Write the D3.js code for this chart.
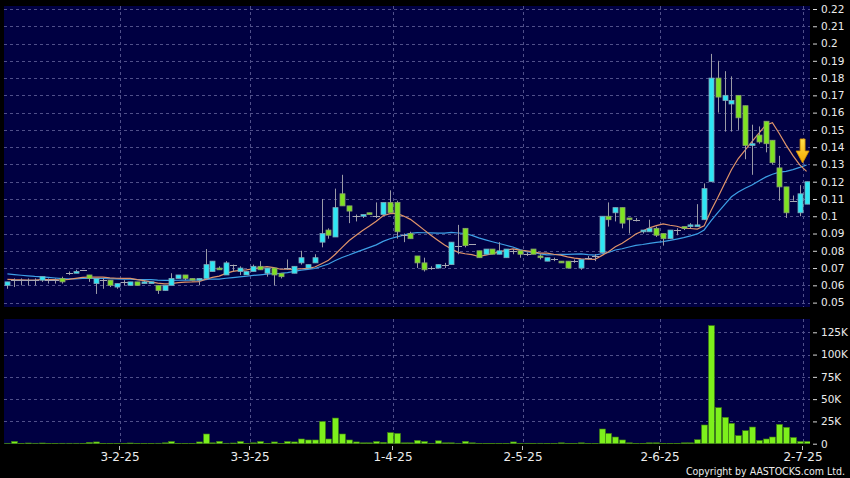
<!DOCTYPE html>
<html><head><meta charset="utf-8">
<script src="https://cdn.jsdelivr.net/npm/d3@7"></script>
<style>html,body{margin:0;padding:0;background:#000;}svg{display:block;}</style>
</head><body><svg id="c" width="850" height="478"></svg>
<script>
// ---- data ----
const opens  = [0.060,0.063,0.063,0.063,0.063,0.063,0.063,0.063,0.064,0.067,0.067,0.069,0.066,0.061,0.063,0.063,0.059,0.062,0.060,0.062,
0.061,0.061,0.060,0.057,0.060,0.064,0.066,0.064,0.063,0.064,0.068,0.070,0.066,0.072,0.068,0.066,0.068,0.071,0.067,0.070,
0.067,0.070,0.067,0.073,0.070,0.073,0.085,0.092,0.088,0.113,0.106,0.100,0.100,0.102,0.100,0.101,0.108,0.108,0.089,0.090,
0.077,0.073,0.070,0.070,0.072,0.072,0.083,0.093,0.084,0.080,0.078,0.081,0.078,0.076,0.080,0.080,0.078,0.081,0.077,0.074,
0.075,0.074,0.074,0.074,0.070,0.076,0.077,0.079,0.100,0.102,0.105,0.099,0.098,0.091,0.091,0.093,0.090,0.087,0.092,0.094,
0.094,0.094,0.098,0.120,0.180,0.167,0.165,0.170,0.164,0.141,0.147,0.155,0.144,0.128,0.117,0.109,0.102,0.107];
const highs  = [0.062,0.064,0.064,0.064,0.064,0.065,0.064,0.064,0.065,0.068,0.069,0.069,0.066,0.064,0.064,0.063,0.061,0.063,0.062,0.062,
0.063,0.062,0.060,0.060,0.067,0.066,0.066,0.064,0.064,0.081,0.074,0.071,0.074,0.072,0.071,0.068,0.072,0.074,0.070,0.070,
0.067,0.075,0.071,0.080,0.072,0.078,0.110,0.093,0.116,0.124,0.106,0.101,0.101,0.102,0.108,0.108,0.115,0.109,0.090,0.091,
0.077,0.076,0.071,0.072,0.073,0.085,0.095,0.093,0.084,0.080,0.081,0.081,0.085,0.081,0.081,0.080,0.079,0.081,0.078,0.076,
0.076,0.074,0.074,0.075,0.075,0.077,0.078,0.100,0.108,0.105,0.105,0.099,0.099,0.092,0.098,0.094,0.090,0.092,0.093,0.094,
0.096,0.107,0.119,0.194,0.190,0.184,0.181,0.170,0.164,0.153,0.152,0.155,0.144,0.135,0.117,0.112,0.118,0.120];
const lows   = [0.058,0.059,0.060,0.060,0.060,0.062,0.061,0.061,0.061,0.066,0.067,0.069,0.062,0.055,0.058,0.059,0.058,0.060,0.060,0.060,
0.061,0.061,0.055,0.057,0.060,0.064,0.063,0.063,0.060,0.064,0.068,0.069,0.066,0.068,0.066,0.066,0.068,0.069,0.065,0.060,
0.064,0.069,0.067,0.072,0.070,0.073,0.082,0.087,0.088,0.106,0.096,0.097,0.099,0.101,0.099,0.101,0.102,0.087,0.085,0.087,
0.070,0.068,0.069,0.070,0.070,0.072,0.078,0.082,0.084,0.076,0.078,0.078,0.078,0.076,0.078,0.076,0.077,0.078,0.075,0.074,
0.074,0.073,0.070,0.073,0.069,0.075,0.074,0.079,0.094,0.097,0.093,0.090,0.097,0.090,0.091,0.088,0.083,0.087,0.089,0.092,
0.093,0.094,0.098,0.120,0.160,0.149,0.149,0.150,0.133,0.124,0.142,0.137,0.130,0.109,0.099,0.109,0.100,0.107];
const closes = [0.062,0.063,0.063,0.063,0.063,0.065,0.063,0.063,0.062,0.067,0.068,0.069,0.064,0.064,0.063,0.060,0.061,0.062,0.062,0.060,
0.062,0.062,0.057,0.060,0.064,0.066,0.064,0.063,0.064,0.072,0.074,0.069,0.073,0.072,0.070,0.068,0.071,0.069,0.070,0.066,
0.065,0.070,0.071,0.076,0.072,0.076,0.090,0.089,0.105,0.106,0.103,0.100,0.101,0.101,0.100,0.108,0.102,0.091,0.089,0.087,
0.073,0.069,0.070,0.072,0.072,0.085,0.083,0.083,0.084,0.076,0.081,0.078,0.080,0.081,0.080,0.078,0.078,0.078,0.076,0.076,
0.075,0.073,0.070,0.074,0.075,0.076,0.077,0.100,0.098,0.105,0.096,0.098,0.098,0.092,0.093,0.089,0.087,0.092,0.092,0.093,
0.095,0.095,0.116,0.180,0.169,0.170,0.167,0.157,0.141,0.142,0.143,0.142,0.131,0.117,0.102,0.109,0.113,0.120];
// volume in thousands of shares
const volumes = [0.5,2.6,0.3,0.8,0.5,0.8,0.3,0.3,0.5,0.5,0.5,0.3,1.5,2.0,0.3,0.3,0.3,0.2,0.8,0.2,
0.2,0.2,0.5,1.0,2.5,0.3,0.3,0.3,2.0,10.9,1.0,2.7,0.5,0.8,2.5,0.3,1.0,2.5,0.3,2.0,
0.3,2.5,2.0,5.3,4.2,4.2,25,5.3,28.8,10.9,4.2,2.0,1.0,1.0,2.5,1.5,12.4,11.6,1.0,1.0,
3.7,2.5,0.5,3.3,1.0,1.0,0.5,2.7,1.0,0.3,0.3,0.3,0.3,0.3,2.0,0.3,0.5,0.3,0.5,0.3,
0.3,1.0,0.3,0.3,1.0,0.3,0.3,16.5,11.6,7.5,4.2,1.0,0.3,0.3,1.0,1.0,0.3,0.3,0.3,1.0,
1.0,4.5,21,132.5,40.4,29.6,22.9,9,14.6,18.7,3.7,5.3,7.5,21.7,18.4,7,2.5,2.5];
// closes before the visible window (estimated from the moving-average levels at the left edge)
const priorCloses = [0.071,0.071,0.070,0.070,0.070,0.070,0.069,0.069,0.069,0.069,0.065,0.064,0.064,0.063,0.063,0.063,0.063,0.064,0.064];
const priceTickLabels = ["0.22","0.21","0.2","0.19","0.18","0.17","0.16","0.15","0.14","0.13","0.12","0.11","0.1","0.09","0.08","0.07","0.06","0.05"];
const volTickValues = [0,25,50,75,100,125];
const volTickLabels = ["0","25K","50K","75K","100K","125K"];
const dateTickLabels = ["3-2-25","3-3-25","1-4-25","2-5-25","2-6-25","2-7-25"];
const dateTickIndex  = [17,36,57,76,96,117];

// ---- layout ----
const N = closes.length;
const plotL = 4, plotR = 810;
const pTop = 6, pBot = 307, vTop = 319, vBot = 444;
const svg = d3.select("#c");
const FONT = "'DejaVu Sans', Verdana, sans-serif";
const TXT = "#ececec";
const GRID = "#50508a";

svg.append("rect").attr("width",850).attr("height",478).attr("fill","#000");
svg.append("rect").attr("x",plotL).attr("y",pTop).attr("width",plotR-plotL).attr("height",pBot-pTop).attr("fill","#000042");
svg.append("rect").attr("x",plotL).attr("y",vTop).attr("width",plotR-plotL).attr("height",vBot-vTop).attr("fill","#000042");

const x = d3.scaleBand().domain(d3.range(N)).range([plotL, plotR]).padding(0);
const cx = i => x(i) + x.step()/2;
const yP = d3.scaleLinear().domain([0.05, 0.22]).range([302.6, 9]);
const yV = d3.scaleLinear().domain([0, 125]).range([443.7, 332.3]);

const defs = svg.append("defs");
defs.append("clipPath").attr("id","cp").append("rect").attr("x",plotL).attr("y",pTop).attr("width",plotR-plotL).attr("height",pBot-pTop);
defs.append("clipPath").attr("id","cv").append("rect").attr("x",plotL).attr("y",vTop).attr("width",plotR-plotL).attr("height",vBot-vTop);
const grad = defs.append("linearGradient").attr("id","ag").attr("x1",0).attr("y1",0).attr("x2",0).attr("y2",1);
grad.append("stop").attr("offset","0%").attr("stop-color","#ffe04a");
grad.append("stop").attr("offset","100%").attr("stop-color","#f5a800");

// grid - price
const gP = svg.append("g").attr("clip-path","url(#cp)");
gP.selectAll("line.h").data(priceTickLabels).join("line")
  .attr("x1",plotL).attr("x2",plotR)
  .attr("y1",d=>Math.round(yP(+d))+0.5).attr("y2",d=>Math.round(yP(+d))+0.5)
  .attr("stroke",GRID).attr("stroke-dasharray","3,3").attr("stroke-width",1);
gP.selectAll("line.v").data(dateTickIndex).join("line")
  .attr("x1",d=>Math.round(x(d))+0.5).attr("x2",d=>Math.round(x(d))+0.5)
  .attr("y1",pTop).attr("y2",pBot)
  .attr("stroke",GRID).attr("stroke-dasharray","3,3");
// grid - volume
const gV = svg.append("g").attr("clip-path","url(#cv)");
gV.selectAll("line.h").data(volTickValues.slice(1)).join("line")
  .attr("x1",plotL).attr("x2",plotR)
  .attr("y1",d=>Math.round(yV(d))+0.5).attr("y2",d=>Math.round(yV(d))+0.5)
  .attr("stroke",GRID).attr("stroke-dasharray","3,3");
gV.selectAll("line.v").data(dateTickIndex).join("line")
  .attr("x1",d=>Math.round(x(d))+0.5).attr("x2",d=>Math.round(x(d))+0.5)
  .attr("y1",vTop).attr("y2",vBot)
  .attr("stroke",GRID).attr("stroke-dasharray","3,3");

// moving averages
const all = priorCloses.concat(closes);
const P = priorCloses.length;
function sma(n){ return closes.map((c,i)=>{ const e=P+i+1; return d3.mean(all.slice(e-n,e)); }); }
const ma10 = sma(10), ma20 = sma(20);
const line = d3.line().x((d,i)=>cx(i)).y(d=>yP(d));
gP.append("path").attr("d",line(ma20)).attr("fill","none").attr("stroke","#3d9fe6").attr("stroke-width",1.2);
gP.append("path").attr("d",line(ma10)).attr("fill","none").attr("stroke","#e0946a").attr("stroke-width",1.2);

// candles
const candles = gP.selectAll("g.c").data(d3.range(N)).join("g");
candles.append("line")
  .attr("x1",i=>Math.round(cx(i))+0.5).attr("x2",i=>Math.round(cx(i))+0.5)
  .attr("y1",i=>yP(highs[i])).attr("y2",i=>yP(lows[i]))
  .attr("stroke","#9a9aa6").attr("stroke-width",1);
candles.filter(i=>opens[i]!==closes[i]).append("rect")
  .attr("x",i=>Math.round(cx(i))-2).attr("width",5)
  .attr("y",i=>yP(Math.max(opens[i],closes[i])))
  .attr("height",i=>Math.max(1,Math.abs(yP(opens[i])-yP(closes[i]))))
  .attr("fill",i=>closes[i]>opens[i]?"#2ee6f4":"#7ee221")
  .attr("stroke",i=>closes[i]>opens[i]?"#7fa8b8":"#8aa070").attr("stroke-width",0.8);
candles.filter(i=>opens[i]===closes[i]).append("line")
  .attr("x1",i=>Math.round(cx(i))-3).attr("x2",i=>Math.round(cx(i))+4)
  .attr("y1",i=>Math.round(yP(closes[i]))+0.5).attr("y2",i=>Math.round(yP(closes[i]))+0.5)
  .attr("stroke","#a8a8b4").attr("stroke-width",1);

// arrow at the last point
const ax = cx(N-1) - 4, ay = yP(ma20[N-1]) - 2;
svg.append("path")
  .attr("d",`M${ax-2.5},${ay-24} L${ax+2.5},${ay-24} L${ax+2.5},${ay-12} L${ax+6.5},${ay-12} L${ax},${ay} L${ax-6.5},${ay-12} L${ax-2.5},${ay-12} Z`)
  .attr("fill","url(#ag)").attr("stroke","#d08a00").attr("stroke-width",0.8);

// volume bars
gV.selectAll("rect.b").data(d3.range(N)).join("rect")
  .attr("x",i=>Math.round(cx(i))-2.5).attr("width",6)
  .attr("y",i=>yV(volumes[i])).attr("height",i=>Math.max(0,yV(0)-yV(volumes[i])))
  .attr("fill","#7df01c").attr("stroke","#3d7a12").attr("stroke-width",0.6);

// right axes
const axP = d3.axisRight(yP).tickValues(priceTickLabels.map(Number)).tickSize(4).tickPadding(4)
  .tickFormat((d,i)=>priceTickLabels[i]);
const gAP = svg.append("g").attr("transform","translate(813,0)").call(axP);
const axV = d3.axisRight(yV).tickValues(volTickValues).tickSize(4).tickPadding(4)
  .tickFormat((d,i)=>volTickLabels[i]);
const gAV = svg.append("g").attr("transform","translate(813,0)").call(axV);
[gAP,gAV].forEach(g=>{
  g.select(".domain").remove();
  g.selectAll(".tick line").attr("stroke","#d8d8d8");
  g.selectAll(".tick text").attr("fill",TXT).attr("font-family",FONT).attr("font-size","10.5px");
});

// date axis
const gD = svg.append("g");
gD.selectAll("line").data(dateTickIndex).join("line")
  .attr("x1",d=>Math.round(x(d))-0.5).attr("x2",d=>Math.round(x(d))-0.5)
  .attr("y1",446).attr("y2",450).attr("stroke","#bdbdbd");
gD.selectAll("text").data(dateTickLabels).join("text")
  .attr("x",(d,i)=>Math.min(Math.round(x(dateTickIndex[i])), 826))
  .attr("y",461).attr("text-anchor","middle")
  .attr("fill",TXT).attr("font-family",FONT).attr("font-size","12px").text(d=>d);

svg.append("text").attr("x",845).attr("y",474.5).attr("text-anchor","end")
  .attr("fill",TXT).attr("font-family","'DejaVu Sans Condensed', 'DejaVu Sans', sans-serif")
  .attr("font-stretch","condensed").attr("font-size","10.5px")
  .text("Copyright by AASTOCKS.com Ltd.");
</script>
</body></html>
